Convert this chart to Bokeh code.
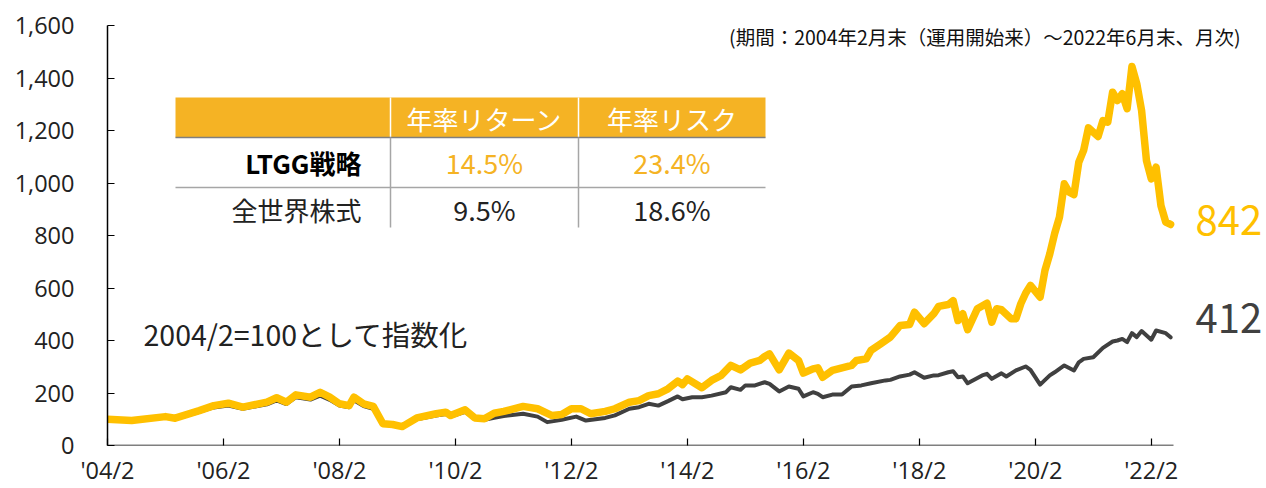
from bokeh.plotting import figure
from bokeh.models import Range1d, FixedTicker, NumeralTickFormatter, Label, ColumnDataSource
from bokeh.embed import file_html
from bokeh.resources import INLINE

# ---------------- data ----------------
ltgg_dates = [
    "2004-02", "2004-07", "2005-02", "2005-04", "2005-09", "2005-12", "2006-03", "2006-06",
    "2006-11", "2007-01", "2007-03", "2007-05", "2007-08", "2007-10", "2007-12", "2008-02",
    "2008-04", "2008-05", "2008-07", "2008-09", "2008-11", "2009-01", "2009-03", "2009-06",
    "2009-10", "2009-12", "2010-01", "2010-04", "2010-06", "2010-08", "2010-10", "2010-12",
    "2011-04", "2011-07", "2011-10", "2011-12", "2012-02", "2012-04", "2012-06", "2012-09",
    "2012-11", "2013-02", "2013-04", "2013-06", "2013-08", "2013-10", "2013-12", "2014-01",
    "2014-02", "2014-05", "2014-07", "2014-09", "2014-11", "2015-01", "2015-03", "2015-05",
    "2015-06", "2015-07", "2015-09", "2015-11", "2016-01", "2016-02", "2016-04", "2016-05",
    "2016-06", "2016-08", "2016-10", "2016-12", "2017-01", "2017-03", "2017-04", "2017-06",
    "2017-08", "2017-10", "2017-12", "2018-01", "2018-03", "2018-05", "2018-06", "2018-08",
    "2018-09", "2018-10", "2018-11", "2018-12", "2019-02", "2019-04", "2019-05", "2019-06",
    "2019-07", "2019-09", "2019-10", "2019-11", "2019-12", "2020-01", "2020-03", "2020-04",
    "2020-05", "2020-06", "2020-07", "2020-08", "2020-09", "2020-10", "2020-11", "2020-12",
    "2021-01", "2021-03", "2021-04", "2021-05", "2021-06", "2021-07", "2021-08", "2021-09",
    "2021-10", "2021-11", "2021-12", "2022-01", "2022-02", "2022-03", "2022-04", "2022-05",
    "2022-06",
]
ltgg_values = [
    100, 95, 110, 104, 133, 152, 161, 146,
    165, 182, 165, 193, 184, 203, 184, 159,
    152, 184, 159, 149, 83, 80, 72, 105,
    121, 127, 114, 136, 105, 102, 123, 130,
    149, 140, 114, 118, 140, 140, 121, 130,
    140, 165, 171, 190, 197, 216, 245, 232,
    254, 220, 248, 267, 305, 288, 314, 324,
    339, 349, 288, 352, 324, 276, 292, 296,
    260, 286, 296, 305, 324, 330, 362, 387,
    413, 457, 461, 508, 464, 502, 530, 537,
    552, 476, 502, 441, 521, 542, 470, 521,
    517, 483, 483, 540, 580, 610, 565, 667,
    730, 807, 870, 997, 965, 956, 1079, 1124,
    1210, 1177, 1238, 1232, 1346, 1314, 1340, 1283,
    1444, 1378, 1276, 1086, 1016, 1060, 914, 851,
    842,
]

world_dates = [
    "2004-02", "2004-07", "2005-02", "2005-04", "2005-09", "2005-12", "2006-03", "2006-06",
    "2006-11", "2007-01", "2007-03", "2007-05", "2007-08", "2007-10", "2007-12", "2008-02",
    "2008-04", "2008-05", "2008-07", "2008-09", "2008-11", "2009-01", "2009-03", "2009-06",
    "2009-10", "2009-12", "2010-01", "2010-04", "2010-06", "2010-08", "2010-10", "2010-12",
    "2011-04", "2011-07", "2011-09", "2011-12", "2012-03", "2012-05", "2012-09", "2012-11",
    "2013-02", "2013-04", "2013-06", "2013-08", "2013-10", "2013-12", "2014-01", "2014-03",
    "2014-05", "2014-07", "2014-10", "2014-11", "2015-01", "2015-02", "2015-04", "2015-06",
    "2015-07", "2015-09", "2015-11", "2016-01", "2016-02", "2016-04", "2016-05", "2016-06",
    "2016-08", "2016-10", "2016-12", "2017-02", "2017-04", "2017-07", "2017-08", "2017-10",
    "2017-12", "2018-01", "2018-03", "2018-05", "2018-06", "2018-08", "2018-09", "2018-10",
    "2018-11", "2018-12", "2019-03", "2019-04", "2019-05", "2019-07", "2019-08", "2019-10",
    "2019-12", "2020-01", "2020-03", "2020-05", "2020-06", "2020-08", "2020-10", "2020-11",
    "2020-12", "2021-02", "2021-04", "2021-06", "2021-07", "2021-08", "2021-09", "2021-10",
    "2021-11", "2021-12", "2022-02", "2022-03", "2022-05", "2022-06",
]
world_values = [
    100, 94, 107, 101, 128, 145, 152, 140,
    157, 172, 158, 184, 175, 190, 174, 152,
    146, 172, 150, 140, 84, 80, 72, 100,
    114, 120, 110, 128, 102, 98, 106, 112,
    121, 110, 89, 98, 110, 95, 105, 115,
    140, 146, 159, 152, 169, 187, 176, 184,
    184, 190, 203, 222, 212, 229, 229, 241,
    235, 206, 225, 216, 187, 203, 197, 184,
    194, 194, 225, 229, 237, 248, 250, 263,
    270, 279, 258, 267, 268, 279, 283, 260,
    263, 237, 267, 273, 254, 275, 263, 286,
    301, 288, 232, 267, 279, 305, 286, 317,
    330, 336, 372, 396, 400, 406, 394, 428,
    413, 436, 403, 438, 428, 412,
]

tick_dates = ["2004-02", "2006-02", "2008-02", "2010-02", "2012-02",
              "2014-02", "2016-02", "2018-02", "2020-02", "2022-02"]
tick_labels = ["'04/2", "'06/2", "'08/2", "'10/2", "'12/2",
               "'14/2", "'16/2", "'18/2", "'20/2", "'22/2"]
axis_end_month = 220.6   # x-axis line ends just past 2022/6

table_header = ["年率リターン", "年率リスク"]
table_rows = ["LTGG戦略", "全世界株式"]
table_return = ["14.5%", "9.5%"]
table_risk = ["23.4%", "18.6%"]

note_text = "(期間：2004年2月末（運用開始来）〜2022年6月末、月次)"
index_text = "2004/2=100として指数化"

# ---------------- helpers ----------------
def midx(s):
    y, m = map(int, s.split("-"))
    return (y - 2004) * 12 + (m - 2)

FONT = "Noto Sans CJK JP"
NUMFONT = "Open Sans"
YELLOW = "#FFC000"
GRAY = "#404040"
ORANGE = "#F5B324"

W, H = 1264, 484
FL, FT, FH = 107, 25, 420          # frame left/top/height in page pixels
PPM = 1066 / axis_end_month        # pixels per month
FW = W - FL                        # frame runs to the right edge (room for end labels)
X0, X1, Y0, Y1 = 0, FW / PPM, 0, 1600


def px(xp):
    return X0 + (xp - FL) / FW * (X1 - X0)


def py(yp):
    return Y1 - (yp - FT) / FH * (Y1 - Y0)


p = figure(width=W, height=H, frame_width=FW, frame_height=FH,
           min_border_left=FL, min_border_right=0,
           min_border_top=FT, min_border_bottom=H - FT - FH,
           x_range=Range1d(X0, X1), y_range=Range1d(Y0, Y1),
           output_backend="svg", toolbar_location=None)
p.outline_line_color = None
p.xgrid.visible = False
p.ygrid.visible = False
p.background_fill_color = "white"
p.border_fill_color = "white"

# ---------------- table ----------------
tl, tr = px(175), px(765)
c1, c2 = px(390), px(578)
t_top, t_hb, t_sep, t_bot = py(97), py(137), py(187), py(227)

p.quad(left=[tl], right=[tr], top=[t_top], bottom=[t_hb],
       fill_color=ORANGE, line_color=None)
p.segment(x0=[c1, c2], y0=[t_top, t_top], x1=[c1, c2], y1=[t_hb, t_hb],
          line_color="white", line_width=1.5)
p.segment(x0=[tl], y0=[t_hb], x1=[tr], y1=[t_hb], line_color="#7f7f7f", line_width=1.5)
p.segment(x0=[c1, c2, tl], y0=[t_hb, t_hb, t_sep], x1=[c1, c2, tr], y1=[t_bot, t_bot, t_sep],
          line_color="#a6a6a6", line_width=1.5)

hdr_y = py(118)
row_y = [py(162), py(209)]
for cx, txt in zip([(c1 + c2) / 2, (c2 + tr) / 2], table_header):
    p.add_layout(Label(x=cx, y=hdr_y, text=txt, text_align="center", text_baseline="middle",
                       text_font=FONT, text_font_size="26px", text_color="white"))
for i in range(2):
    bold = i == 0
    p.add_layout(Label(x=px(361), y=row_y[i], text=table_rows[i], text_align="right",
                       text_baseline="middle", text_font=FONT, text_font_size="26px",
                       text_font_style="bold" if bold else "normal",
                       text_color="#000000" if bold else "#222222"))
    col = "#F5B324" if bold else "#222222"
    p.add_layout(Label(x=(c1 + c2) / 2, y=row_y[i], text=table_return[i], text_align="center",
                       text_baseline="middle", text_font=FONT, text_font_size="27px",
                       text_color=col))
    p.add_layout(Label(x=(c2 + tr) / 2, y=row_y[i], text=table_risk[i], text_align="center",
                       text_baseline="middle", text_font=FONT, text_font_size="27px",
                       text_color=col))

# ---------------- lines ----------------
world_src = ColumnDataSource(dict(x=[midx(d) for d in world_dates], y=world_values))
ltgg_src = ColumnDataSource(dict(x=[midx(d) for d in ltgg_dates], y=ltgg_values))
p.line("x", "y", source=world_src, line_color=GRAY, line_width=4, line_join="round",
       line_cap="round")
p.line("x", "y", source=ltgg_src, line_color=YELLOW, line_width=7.5, line_join="round",
       line_cap="round")

# x-axis line (only up to the end of the data period)
p.segment(x0=[0], y0=[0], x1=[axis_end_month], y1=[0], line_color="#000000", line_width=1.5)

# end labels
p.add_layout(Label(x=px(1195), y=ltgg_values[-1], y_offset=4, text=str(ltgg_values[-1]),
                   text_align="left", text_baseline="middle", text_font=FONT,
                   text_font_size="40px", text_color=YELLOW))
p.add_layout(Label(x=px(1195), y=world_values[-1], y_offset=19, text=str(world_values[-1]),
                   text_align="left", text_baseline="middle", text_font=FONT,
                   text_font_size="40px", text_color=GRAY))

# annotations
p.add_layout(Label(x=px(1240), y=py(36), text=note_text, text_align="right",
                   text_baseline="middle", text_font=FONT, text_font_size="19.5px",
                   text_color="#111111"))
p.add_layout(Label(x=px(143), y=py(333), text=index_text, text_align="left",
                   text_baseline="middle", text_font=FONT, text_font_size="28.5px",
                   text_color="#222222"))

# ---------------- axes ----------------
p.xaxis.ticker = FixedTicker(ticks=[midx(d) for d in tick_dates])
p.xaxis.major_label_overrides = {midx(d): lab for d, lab in zip(tick_dates, tick_labels)}
p.yaxis.ticker = FixedTicker(ticks=list(range(0, 1601, 200)))
p.yaxis.formatter = NumeralTickFormatter(format="0,0")
for ax in (p.xaxis, p.yaxis):
    ax.axis_line_color = "#000000"
    ax.axis_line_width = 1.5
    ax.major_tick_line_color = "#000000"
    ax.major_tick_line_width = 1.2
    ax.major_tick_in = 7
    ax.major_tick_out = 0
    ax.minor_tick_line_color = None
    ax.major_label_text_font = NUMFONT
    ax.major_label_text_font_size = "23.5px"
    ax.major_label_text_color = "#222222"
p.xaxis.axis_line_color = None
p.yaxis.major_label_standoff = 33
p.xaxis.major_label_standoff = 8

open("out.html", "w").write(file_html(p, INLINE))
